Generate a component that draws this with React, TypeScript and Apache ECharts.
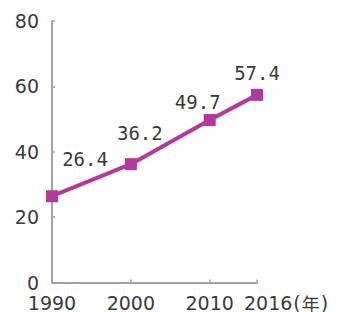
import React, { useEffect, useRef } from "react";
import * as echarts from "echarts";

const years = [1990, 2000, 2010, 2016];
const values = [26.4, 36.2, 49.7, 57.4];
const yTicks = [0, 20, 40, 60, 80];
const unitLabel = "年";

// label placement (style only)
const labelOffsets = [
  [33, -37],
  [9, -31],
  [-12, -18],
  [0, -22],
];

export default function App() {
  const ref = useRef<HTMLDivElement>(null);
  useEffect(() => {
    if (!ref.current) return;
    const chart = echarts.init(ref.current, null, { renderer: "svg" });
    const axisColor = "#a3a3a3";
    const textColor = "#3a3a3a";
    const lastYear = years[years.length - 1];
    chart.setOption({
      animation: false,
      backgroundColor: "#ffffff",
      grid: { left: 52, right: 80, top: 21, bottom: 29, containLabel: false },
      xAxis: {
        type: "value",
        min: years[0],
        max: lastYear,
        interval: 10,
        name: "{a|" + lastYear + "}{b|(}{c|" + unitLabel + "}{b|)}",
        nameLocation: "end",
        nameGap: -13,
        nameTextStyle: {
          align: "left",
          verticalAlign: "top",
          padding: [9, 0, 0, 0],
          rich: {
            a: { color: textColor, fontFamily: "DejaVu Sans", fontSize: 19, lineHeight: 22 },
            b: {
              color: textColor,
              fontFamily: "DejaVu Sans",
              fontSize: 19,
              lineHeight: 22,
              padding: [0, 1, 0, 1],
            },
            c: {
              color: textColor,
              fontFamily: "Noto Sans CJK SC",
              fontSize: 18,
              lineHeight: 22,
            },
          },
        },
        splitLine: { show: false },
        axisLine: { show: true, lineStyle: { color: axisColor, width: 2 } },
        axisTick: { show: true, inside: true, length: 3, lineStyle: { color: axisColor, width: 1.5 } },
        axisLabel: {
          color: textColor,
          fontFamily: "DejaVu Sans",
          fontSize: 19,
          lineHeight: 16,
          margin: 12,
          showMinLabel: true,
          formatter: (v: number) => (v === lastYear ? "" : String(v)),
        },
      },
      yAxis: {
        type: "value",
        min: yTicks[0],
        max: yTicks[yTicks.length - 1],
        interval: 20,
        splitLine: { show: false },
        axisLine: { show: true, lineStyle: { color: axisColor, width: 2 } },
        axisTick: { show: true, inside: true, length: 3, lineStyle: { color: axisColor, width: 1.5 } },
        axisLabel: {
          color: textColor,
          fontFamily: "DejaVu Sans",
          fontSize: 19,
          lineHeight: 16,
          margin: 13,
          padding: [0, 0, 3, 0],
        },
      },
      series: [
        {
          type: "line",
          data: years.map((y, i) => ({
            value: [y, values[i]],
            label: { offset: labelOffsets[i] },
          })),
          symbol: "rect",
          symbolSize: 12,
          lineStyle: { color: "#b5389f", width: 4 },
          itemStyle: { color: "#b5389f" },
          label: {
            show: true,
            position: "inside",
            color: textColor,
            fontFamily: "DejaVu Sans Mono",
            fontSize: 19,
            formatter: (p: any) => String(p.value[1]),
          },
        },
      ],
    });
    return () => chart.dispose();
  }, []);
  return (
    <div
      ref={ref}
      style={{ position: "fixed", left: 0, top: 0, width: 337, height: 312, background: "#fff" }}
    />
  );
}
